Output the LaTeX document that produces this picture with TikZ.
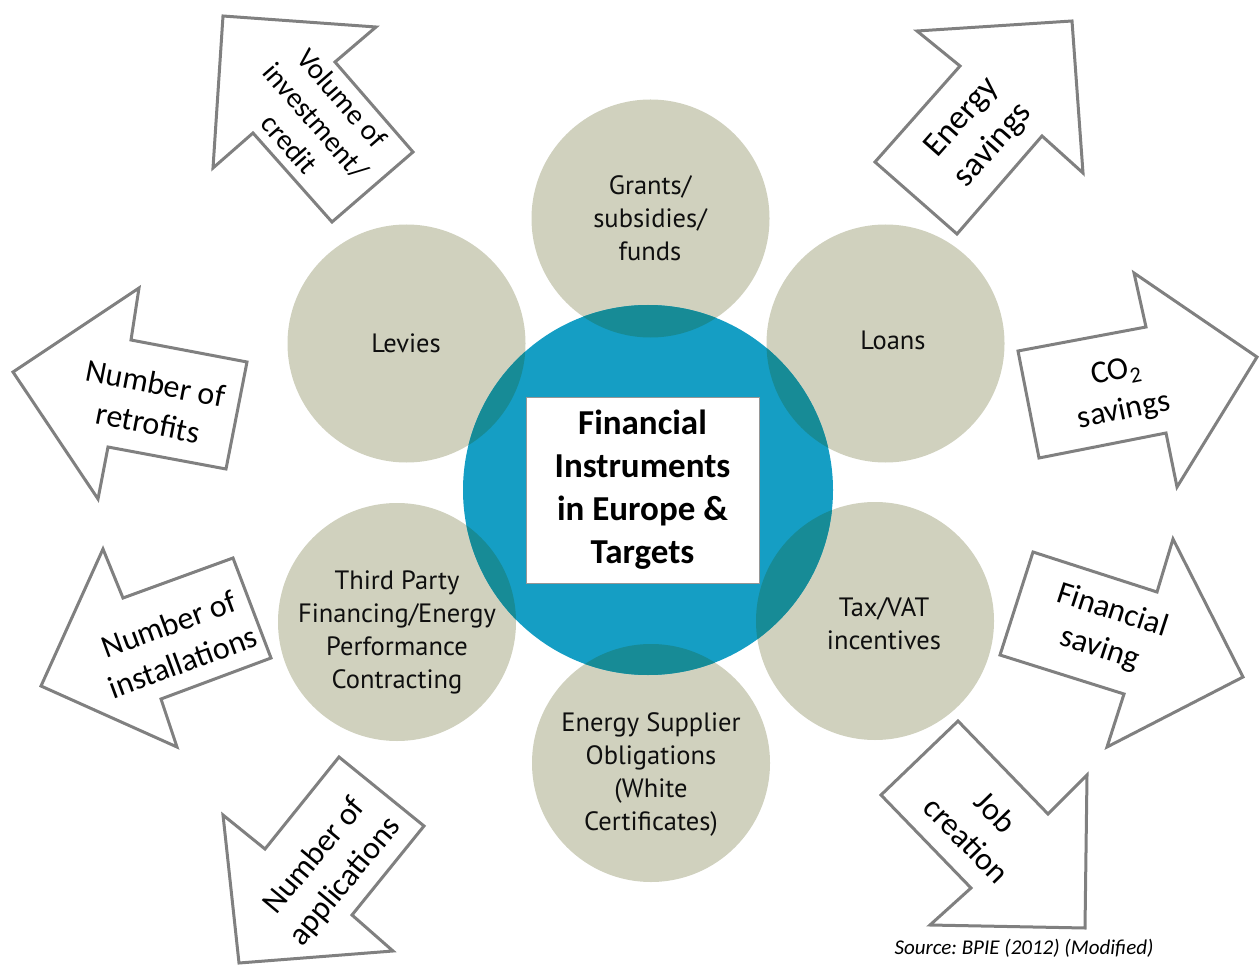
\documentclass[tikz,border=0pt]{standalone}
\usepackage{fontspec}
\setmainfont{Carlito}
\newfontfamily\circfont{PT Sans}
\frenchspacing
\definecolor{circgray}{RGB}{208,209,190}
\definecolor{mainblue}{RGB}{21,158,196}
\definecolor{overlapblue}{RGB}{23,139,150}
\definecolor{arrowgray}{RGB}{128,128,128}
\definecolor{textdark}{RGB}{15,15,15}
\definecolor{boxgray}{RGB}{150,150,150}
\tikzset{
  graycirc/.style={circle, fill=circgray, minimum size=238pt, inner sep=0pt},
  circlabel/.style={font=\circfont\fontsize{26.5}{33}\selectfont, align=center, text=textdark, inner sep=0pt},
  blockarrow/.style={draw=arrowgray, line width=3pt, fill=white, line join=miter},
  arrowlabel/.style={font=\fontsize{32}{40}\selectfont, align=center, inner sep=0pt},
  centerbox/.style={draw=boxgray, line width=1pt, fill=white, minimum width=233pt, minimum height=186pt, inner sep=0pt,
     font=\bfseries\fontsize{35}{43}\selectfont, align=center},
}
\begin{document}
\begin{tikzpicture}[x=1pt,y=-1pt]
\useasboundingbox (0,0) rectangle (1260,965);
% gray circles
\node[graycirc] (cgrants) at (650.5,218.5) {};
\node[graycirc] (clevies) at (406.5,343.5) {};
\node[graycirc] (cloans) at (885.5,343.5) {};
\node[graycirc] (cthird) at (397,622) {};
\node[graycirc] (ctax) at (875,621) {};
\node[graycirc] (csupplier) at (651,763) {};
% blue circle
\node[circle, fill=mainblue, minimum size=370pt, inner sep=0pt] (cblue) at (648,490) {};
% overlaps
\foreach \c in {(650.5,218.5),(406.5,343.5),(885.5,343.5),(397,622),(875,621),(651,763)}{
  \begin{scope}
    \clip \c circle (119);
    \fill[overlapblue] (648,490) circle (185);
  \end{scope}
}
% circle labels
\node[circlabel] (tgrants) at (650,218) {Grants/\\subsidies/\\funds};
\node[circlabel] (tlevies) at (406,343) {Levies};
\node[circlabel] (tloans) at (893,340) {Loans};
\node[circlabel] (tthird) at (397,632) {Third Party\\Financing/Energy\\Performance\\Contracting};
\node[circlabel] (ttax) at (884,624) {Tax/VAT\\incentives};
\node[circlabel] (tsupplier) at (651,774) {Energy Supplier\\Obligations\\(White\\Certificates)};
% centre box
\node[centerbox] (centre) at (642.5,490) {Financial\\Instruments\\in Europe \&\\Targets};
% block arrows
\draw[blockarrow] (223,16) -- (376,27) -- (335,62) -- (413,152) -- (332,222) -- (253,133) -- (213,168) -- cycle;
\draw[blockarrow] (1072,21) -- (917,31) -- (960,66) -- (875,162) -- (957,234) -- (1042,136) -- (1083,173) -- cycle;
\draw[blockarrow] (1018,351) -- (1146,327) -- (1134,273) -- (1257,357) -- (1177,487) -- (1166,433) -- (1039,458) -- cycle;
\draw[blockarrow] (1033,552) -- (1157,592) -- (1173,539) -- (1243,677) -- (1107,747) -- (1124,694) -- (1000,655) -- cycle;
\draw[blockarrow] (958,721) -- (1048,814) -- (1087,775) -- (1085,928) -- (930,925) -- (971,888) -- (881,795) -- cycle;
\draw[blockarrow] (339,757) -- (424,826) -- (352,915) -- (393,951) -- (239,963) -- (223,815) -- (265,849) -- cycle;
\draw[blockarrow] (103,549) -- (123,598) -- (233,558) -- (271,658) -- (161,699) -- (177,747) -- (41,686) -- cycle;
\draw[blockarrow] (13,372) -- (139,288) -- (131,340) -- (247,362) -- (226,469) -- (108,447) -- (98,499) -- cycle;
% arrow labels
\node[arrowlabel, font=\fontsize{29}{35}\selectfont, rotate=-49] (lvolume) at (316,121) {Volume of\\investment/\\credit};
\node[arrowlabel, font=\fontsize{34}{42}\selectfont, rotate=48.6] (lenergy) at (978,132) {Energy\\savings};
\node[arrowlabel, rotate=11.6] (lco) at (1120,392) {CO\textsubscript{2}\\savings};
\node[arrowlabel, rotate=-18] (lfin) at (1106,630) {Financial\\saving};
\node[arrowlabel, rotate=-45.8] (ljob) at (981,826) {Job\\creation};
\node[arrowlabel, rotate=50.3] (lapp) at (330,869) {Number of\\applications};
\node[arrowlabel, rotate=20.3] (linst) at (176,643) {Number of\\installations};
\node[arrowlabel, rotate=-11] (lretro) at (152,403) {Number of\\retrofits};
% source
\node[font=\itshape\fontsize{21}{25}\selectfont, inner sep=0pt] (source) at (1024,948) {Source: BPIE (2012) (Modified)};
\end{tikzpicture}
\end{document}
